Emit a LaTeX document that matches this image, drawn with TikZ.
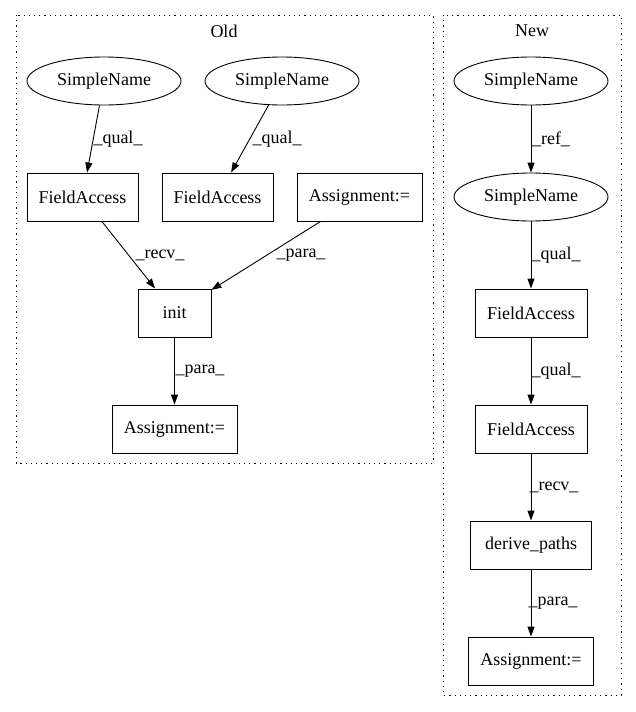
\documentclass[tikz,border=0pt]{standalone}
\usepackage{fontspec}
\setmainfont{Liberation Serif}
\usetikzlibrary{shapes.geometric,arrows.meta}
\begin{document}
\begin{tikzpicture}[x=1pt,y=-1pt,
  every node/.style={font=\fontsize{18}{20}\selectfont},
  ell/.style={draw,ellipse,line width=0.9pt,inner sep=0pt,minimum width=154pt,minimum height=48pt},
  box/.style={draw,rectangle,line width=0.9pt,inner sep=0pt,minimum height=48pt},
  edge/.style={draw,line width=0.9pt,-{Triangle[length=10pt,width=7pt]}},
  lbl/.style={inner sep=0pt},
  clus/.style={draw,line width=0.9pt,dash pattern=on 1.2pt off 4pt}]
\useasboundingbox (0,0) rectangle (636,712);
% clusters
\draw[clus] (16,15) rectangle (433,463);
\node (oldt) at (224,31) {Old};
\draw[clus] (443,15) rectangle (621,695);
\node (newt) at (532,31) {New};
% Old
\node[ell] (sn1) at (104,81) {SimpleName};
\node[ell] (sn2) at (282,81) {SimpleName};
\node[box,minimum width=111pt] (fa1) at (82.5,197) {FieldAccess};
\node[box,minimum width=111pt] (fa2) at (217.5,197) {FieldAccess};
\node[box,minimum width=125pt] (as1) at (359.5,197) {Assignment:=};
\node[box,minimum width=73pt] (init) at (174.5,313) {init};
\node[box,minimum width=125pt] (as2) at (174.5,429) {Assignment:=};
\draw[edge] (sn1) -- (fa1);
\draw[edge] (sn2) -- (fa2);
\draw[edge] (fa1) -- (init);
\draw[edge] (as1) -- (init);
\draw[edge] (init) -- (as2);
\node[lbl] (l1) at (118,139) {\_qual\_};
\node[lbl] (l2) at (277,139) {\_qual\_};
\node[lbl] (l3) at (160,255) {\_recv\_};
\node[lbl] (l4) at (301,255) {\_para\_};
\node[lbl] (l5) at (200,371) {\_para\_};
% New
\node[ell] (nsn1) at (531,81) {SimpleName};
\node[ell] (nsn2) at (531,197) {SimpleName};
\node[box,minimum width=112pt] (nfa1) at (531,313) {FieldAccess};
\node[box,minimum width=112pt] (nfa2) at (531,429) {FieldAccess};
\node[box,minimum width=121pt] (dp) at (531,545) {derive\_paths};
\node[box,minimum width=125pt] (nas) at (531,661) {Assignment:=};
\draw[edge] (nsn1) -- (nsn2);
\draw[edge] (nsn2) -- (nfa1);
\draw[edge] (nfa1) -- (nfa2);
\draw[edge] (nfa2) -- (dp);
\draw[edge] (dp) -- (nas);
\node[lbl] (m1) at (551,139) {\_ref\_};
\node[lbl] (m2) at (556,255) {\_qual\_};
\node[lbl] (m3) at (556,371) {\_qual\_};
\node[lbl] (m4) at (554,487) {\_recv\_};
\node[lbl] (m5) at (553,603) {\_para\_};
\end{tikzpicture}
\end{document}
